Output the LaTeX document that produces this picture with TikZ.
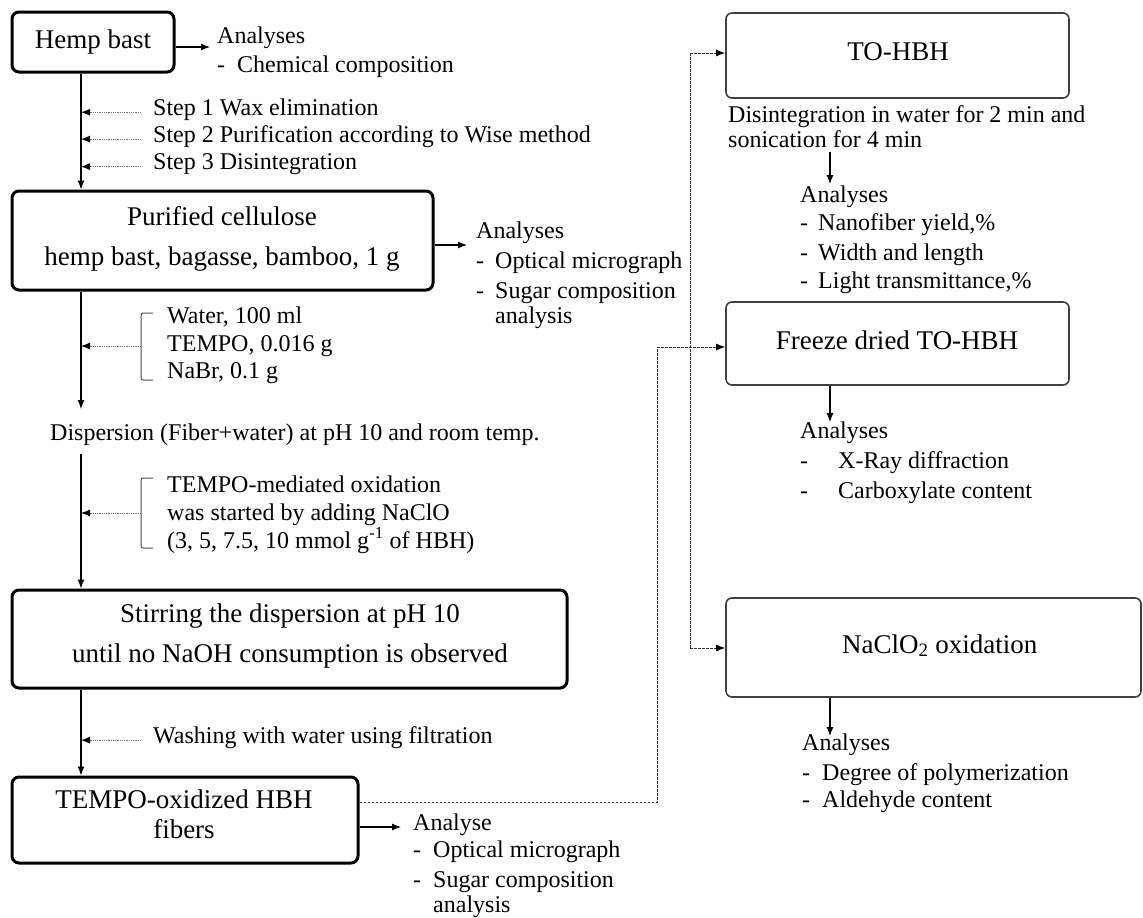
\documentclass[tikz,border=0pt]{standalone}
\usepackage{fontspec}
\setmainfont{Liberation Serif}
\usetikzlibrary{arrows.meta}
\begin{document}
\begin{tikzpicture}[x=1pt,y=-1pt,
  lbox/.style={draw=black, line width=3pt, rounded corners=7pt, inner sep=0pt, fill=white},
  rbox/.style={draw=black!75, line width=1.6pt, rounded corners=6pt, inner sep=0pt, fill=white},
  big/.style={font=\fontsize{27}{32}\selectfont, inner sep=0pt},
  txt/.style={font=\fontsize{24}{28}\selectfont, anchor=base west, inner sep=0pt},
  arr/.style={line width=1.1pt, -{Latex[length=9pt,width=7pt]}},
  darr/.style={line width=0.9pt, black!55, dash pattern=on 1pt off 0.8pt, -{Latex[length=9pt,width=7pt,color=black]}},
  dline/.style={line width=1pt, black!80, dash pattern=on 2.5pt off 1.5pt},
  dtip/.style={dline, -{Latex[length=9pt,width=7pt,color=black]}},
  brk/.style={line width=1pt, black!70, rounded corners=2pt}
]
\useasboundingbox (0,0) rectangle (1143,918);
\coordinate (mx) at (81,0);

% left column boxes
\node[lbox, big, minimum width=162pt, minimum height=60pt] (hemp) at (93,42) {Hemp bast};
\node[lbox, minimum width=421pt, minimum height=99pt] (pur) at (222.5,240.5) {};
\node[big, anchor=base] (pur1) at (222,225) {Purified cellulose};
\node[big, anchor=base] (pur2) at (222,265) {hemp bast, bagasse, bamboo, 1 g};
\node[txt] (disp) at (50,440) {Dispersion (Fiber+water) at pH 10 and room temp.};
\node[lbox, minimum width=555pt, minimum height=98pt] (stir) at (289.5,639) {};
\node[big, anchor=base] (stir1) at (290,622) {Stirring the dispersion at pH 10};
\node[big, anchor=base] (stir2) at (290,662) {until no NaOH consumption is observed};
\node[lbox, minimum width=346pt, minimum height=86pt] (tox) at (185,820) {};
\node[big, anchor=base] (tox1) at (184,808) {TEMPO-oxidized HBH};
\node[big, anchor=base] (tox2) at (184,838) {fibers};

% step texts
\node[txt] (st1) at (153,115) {Step 1 Wax elimination};
\node[txt] (st2) at (153,142) {Step 2 Purification according to Wise method};
\node[txt] (st3) at (153,169) {Step 3 Disintegration};
\node[txt] (w1) at (167,323) {Water, 100 ml};
\node[txt] (w2) at (167,351) {TEMPO, 0.016 g};
\node[txt] (w3) at (167,378) {NaBr, 0.1 g};
\node[txt] (t1) at (167,492) {TEMPO-mediated oxidation};
\node[txt] (t2) at (167,520) {was started by adding NaClO};
\node[txt] (t3) at (167,548) {(3, 5, 7.5, 10 mmol g\textsuperscript{-1} of HBH)};
\node[txt] (wash) at (153,743) {Washing with water using filtration};

% analyses texts (left)
\node[txt] (ha1) at (217,43) {Analyses};
\node[txt] (ha2) at (217,72) {-\hspace{12pt}Chemical composition};
\node[txt] (pa1) at (476,238) {Analyses};
\node[txt] (pa2) at (476,268) {-\hspace{11pt}Optical micrograph};
\node[txt] (pa3) at (476,298) {-\hspace{11pt}Sugar composition};
\node[txt] (pa4) at (495,323) {analysis};
\node[txt] (ta1) at (413,830) {Analyse};
\node[txt] (ta2) at (413,857) {-\hspace{12pt}Optical micrograph};
\node[txt] (ta3) at (413,887) {-\hspace{12pt}Sugar composition};
\node[txt] (ta4) at (433,912) {analysis};

% right column
\node[rbox, minimum width=343pt, minimum height=85pt] (to) at (897.5,55.5) {};
\node[big, anchor=base] (tot) at (898,60) {TO-HBH};
\node[txt] (dis1) at (728,122) {Disintegration in water for 2 min and};
\node[txt] (dis2) at (728,147) {sonication for 4 min};
\node[txt] (ra1) at (800,202) {Analyses};
\node[txt] (ra2) at (800,230) {-\hspace{10pt}Nanofiber yield,\%};
\node[txt] (ra3) at (800,260) {-\hspace{10pt}Width and length};
\node[txt] (ra4) at (800,288) {-\hspace{10pt}Light transmittance,\%};

\node[rbox, minimum width=343pt, minimum height=83pt] (fd) at (897.5,343.5) {};
\node[big, anchor=base] (fdt) at (897,349) {Freeze dried TO-HBH};
\node[txt] (fa1) at (800,438) {Analyses};
\node[txt] (fa2) at (800,468) {-\hspace{30pt}X-Ray diffraction};
\node[txt] (fa3) at (800,498) {-\hspace{30pt}Carboxylate content};

\node[rbox, minimum width=415pt, minimum height=99pt] (na) at (933.5,647.5) {};
\node[big, anchor=base west] (nat) at (842,653) {NaClO\textsubscript{2} oxidation};
\node[txt] (na1) at (802,750) {Analyses};
\node[txt] (na2) at (802,780) {-\hspace{12pt}Degree of polymerization};
\node[txt] (na3) at (802,807) {-\hspace{12pt}Aldehyde content};

% main flow arrows
\coordinate (dtop) at (81,409);
\coordinate (dbot) at (81,454);
\draw[arr] (hemp.south -| mx) -- (pur.north -| mx);
\draw[arr] (pur.south -| mx) -- (dtop);
\draw[arr] (dbot) -- (stir.north -| mx);
\draw[arr] (stir.south -| mx) -- (tox.north -| mx);

% step dotted arrows
\path ([xshift=-12pt,yshift=-3pt]st1.west) coordinate (c1);
\path ([xshift=-12pt,yshift=-3pt]st2.west) coordinate (c2);
\path ([xshift=-12pt,yshift=-3pt]st3.west) coordinate (c3);
\path ([xshift=-12pt,yshift=-3pt]wash.west) coordinate (c4);
\draw[darr] (c1) -- (c1 -| mx);
\draw[darr] (c2) -- (c2 -| mx);
\draw[darr] (c3) -- (c3 -| mx);
\draw[darr] (c4) -- (c4 -| mx);

% brackets
\draw[brk] (153,313) -- (141,313) -- (141,380) -- (153,380);
\draw[brk] (153,478) -- (141,478) -- (141,548) -- (153,548);
\coordinate (b1) at (141,346);
\coordinate (b2) at (141,513);
\draw[darr] (b1) -- (b1 -| mx);
\draw[darr] (b2) -- (b2 -| mx);

% analyses arrows
\coordinate (ha) at (210,47);
\coordinate (pa) at (467,245);
\coordinate (ta) at (401,827);
\draw[arr] (hemp.east |- ha) -- (ha);
\draw[arr] (pur.east |- pa) -- (pa);
\draw[arr] (tox.east |- ta) -- (ta);

% dashed routing to right column
\coordinate (tb) at (657,802);
\coordinate (v1) at (657,347);
\coordinate (v2t) at (690,53);
\coordinate (v2b) at (690,648);
\draw[dline] (tox.east |- tb) -- (tb) -- (v1);
\draw[dtip] (v1) -- (fd.west |- v1);
\draw[dline] (v2t) -- (v2b);
\draw[dtip] (v2t) -- (to.west |- v2t);
\draw[dtip] (v2b) -- (na.west |- v2b);

% right down arrows
\coordinate (r1a) at (830,152);
\coordinate (r1b) at (830,184);
\coordinate (r2b) at (830,422);
\coordinate (r3b) at (830,736);
\draw[arr] (r1a) -- (r1b);
\draw[arr] (fd.south -| r2b) -- (r2b);
\draw[arr] (na.south -| r3b) -- (r3b);
\end{tikzpicture}
\end{document}
